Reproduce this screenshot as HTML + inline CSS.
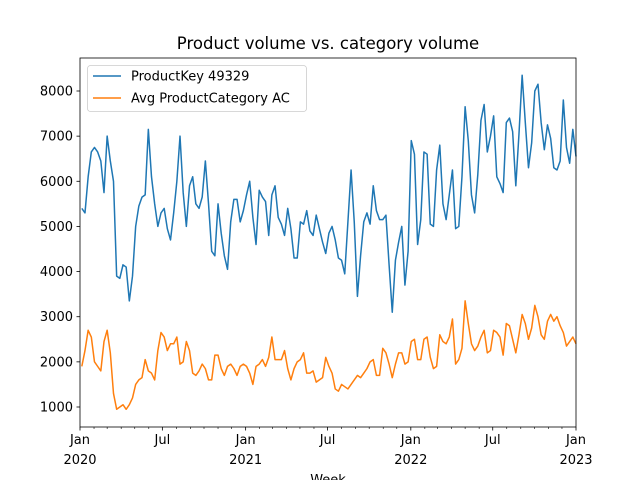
<!DOCTYPE html>
<html><head><meta charset="utf-8"><style>
body{margin:0;background:#fff;}
svg{display:block;font-family:"DejaVu Sans","Liberation Sans",sans-serif;}
</style></head><body>
<svg id="chart" width="640" height="480"></svg>
<script>
const productValues=[5400,5300,6100,6650,6750,6650,6450,5750,7000,6450,
6000,3900,3850,4150,4100,3350,3900,5000,5450,5650,
5700,7150,6100,5500,5000,5300,5400,4950,4700,5300,
6000,7000,5750,5000,5900,6100,5500,5400,5650,6450,
5500,4450,4350,5500,4850,4350,4050,5100,5600,5600,
5100,5350,5700,6000,5200,4600,5800,5650,5550,4800,
5700,5900,5200,5050,4800,5400,4950,4300,4300,5100,
5050,5350,4900,4800,5250,4950,4650,4400,4850,5000,
4700,4300,4250,3950,5100,6250,5100,3450,4350,5100,
5300,5050,5900,5350,5150,5150,5250,4150,3100,4250,
4650,5000,3700,4450,6900,6600,4600,5150,6650,6600,
5050,5000,6250,6800,5500,5150,5700,6250,4950,5000,
6100,7650,6900,5700,5300,6150,7350,7700,6650,7000,
7450,6100,5950,5750,7300,7400,7100,5900,7050,8350,
7300,6300,6850,8000,8150,7300,6700,7250,6950,6300,
6250,6450,7800,6750,6400,7150,6550];
const categoryValues=[1900,2250,2700,2550,2000,1900,1800,2450,2700,2200,
1300,950,1000,1050,950,1050,1200,1500,1600,1650,
2050,1800,1750,1600,2250,2650,2550,2250,2400,2400,
2550,1950,2000,2450,2250,1750,1700,1800,1950,1850,
1600,1600,2150,2150,1850,1700,1900,1950,1850,1700,
1900,1950,1900,1750,1500,1900,1950,2050,1900,2100,
2550,2050,2050,2050,2250,1850,1600,1850,2000,2050,
2200,1750,1750,1800,1550,1600,1650,2100,1900,1750,
1400,1350,1500,1450,1400,1500,1600,1700,1650,1750,
1850,2000,2050,1700,1700,2300,2200,1950,1650,1950,
2200,2200,1950,2000,2450,2500,2050,2050,2500,2550,
2100,1850,1900,2600,2450,2400,2550,2950,1950,2050,
2300,3350,2850,2400,2250,2350,2550,2700,2200,2250,
2700,2650,2550,2150,2850,2800,2500,2200,2600,3050,
2850,2500,2750,3250,3000,2600,2500,2900,3050,2900,
3000,2800,2650,2350,2450,2550,2400];
const yTicks=[1000,2000,3000,4000,5000,6000,7000,8000];
const xMajorLabels=[["Jan","2020"],["Jul",""],["Jan","2021"],["Jul",""],["Jan","2022"],["Jul",""],["Jan","2023"]];
const seriesNames=["ProductKey 49329","Avg ProductCategory AC"];

const NS="http://www.w3.org/2000/svg";
const svg=document.getElementById('chart');
const L=80,R=576,T=58,B=427;
const day=864e5;
const t0=Date.UTC(2020,0,1),t1=Date.UTC(2023,0,1);
const start=Date.UTC(2020,0,5);
function xs(t){return L+(t-t0)/(t1-t0)*(R-L);}
function ys(v){return 407-(v-1000)*(316/7000);}
function el(tag,attrs,parent){const e=document.createElementNS(NS,tag);for(const k in attrs)e.setAttribute(k,attrs[k]);(parent||svg).appendChild(e);return e;}

const title=el('text',{x:328,y:49,'text-anchor':'middle','font-size':'16.5'});
title.textContent='Product volume vs. category volume';



// y ticks
yTicks.forEach(v=>{
  const y=ys(v);
  const tk=el('line',{x1:L-3.5,x2:L,y1:y,y2:y,stroke:'#000','stroke-width':0.8});
  
  
  const tx=el('text',{x:L-7,y:y+4.5,'text-anchor':'end','font-size':'13'});
  tx.textContent=v;
  
  
});
// minor monthly ticks
for(let m=0;m<=36;m++){
  const t=Date.UTC(2020+Math.floor(m/12),m%12,1);
  const x=xs(t);
  const major=(m%6===0);
  const tk=el('line',{x1:x,x2:x,y1:B,y2:B+(major?3.5:2),stroke:'#000','stroke-width':major?0.8:0.6});
  
  
  if(major){
    const lab=xMajorLabels[m/6];
    const tx=el('text',{x:x,y:B+17,'text-anchor':'middle','font-size':'13'});
    tx.textContent=lab[0];
    
    
    if(lab[1]){
      const ty=el('text',{x:x,y:B+37,'text-anchor':'middle','font-size':'13'});
      ty.textContent=lab[1];
      
      
    }
  }
}
const xl=el('text',{x:328,y:484,'text-anchor':'middle','font-size':'13'});
xl.textContent='Week';



function line(vals,color,name){
  const pts=vals.map((v,i)=>xs(start+i*7*day).toFixed(2)+','+ys(v).toFixed(2)).join(' ');
  const p=el('polyline',{points:pts,fill:'none',stroke:color,'stroke-width':1.5,'stroke-linejoin':'round'});
  
  
}
const clipG=el('g',{});
line(productValues,'#1f77b4','product-line');
line(categoryValues,'#ff7f0e','category-line');

const frame=el('rect',{x:L,y:T,width:R-L,height:B-T,fill:'none',stroke:'#000','stroke-width':0.8});



// legend
const lg=el('g',{});


el('rect',{x:87.5,y:65.5,width:219,height:46,rx:3,fill:'#fff','fill-opacity':0.8,stroke:'#ccc','stroke-width':0.8},lg);
const colors=['#1f77b4','#ff7f0e'];
seriesNames.forEach((n,i)=>{
  const y=76+i*22;
  const ln=el('line',{x1:93,x2:121,y1:y,y2:y,stroke:colors[i],'stroke-width':1.5},lg);
  
  
  const tx=el('text',{x:131,y:y+4.5,'font-size':'13'},lg);
  tx.textContent=n;
  
  
});
</script>
</body></html>
